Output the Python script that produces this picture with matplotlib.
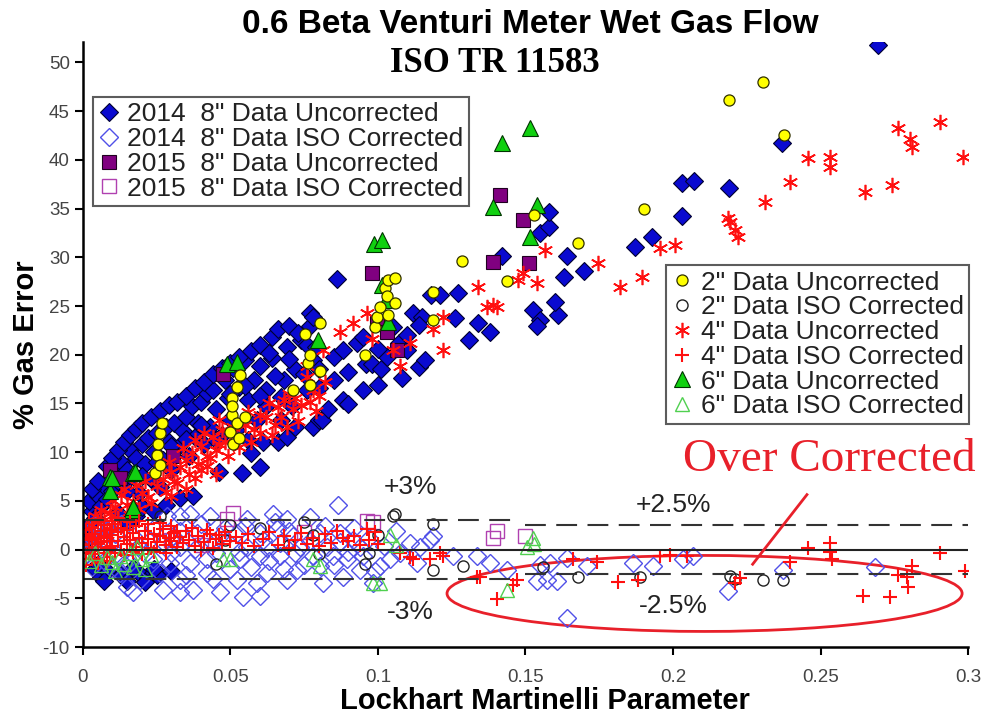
import numpy as np
import matplotlib
matplotlib.use("Agg")
import matplotlib.pyplot as plt
from matplotlib.patches import Ellipse

plt.rcParams['font.family'] = ['Liberation Sans', 'DejaVu Sans']
plt.rcParams['axes.unicode_minus'] = False

# ---- data: (Lockhart Martinelli X, % gas error) ----
u14 = [(0.001, 1.0), (0.002, 2.5), (0.003, 4.0), (0.002, 5.0), (0.004, 3.2), (0.005, 5.5), (0.006, 4.5),
       (0.007, 6.5), (0.008, 5.2), (0.009, 7.2), (0.010, 6.0), (0.011, 8.0), (0.012, 7.0), (0.013, 9.0),
       (0.014, 6.8), (0.015, 8.2), (0.016, 10.2), (0.017, 7.6), (0.018, 9.4), (0.019, 5.8), (0.020, 10.8),
       (0.021, 8.8), (0.022, 11.5), (0.023, 7.2), (0.024, 10.0), (0.025, 12.0), (0.026, 6.4), (0.027, 9.2),
       (0.028, 12.6), (0.029, 11.0), (0.030, 8.2), (0.031, 13.0), (0.032, 10.4), (0.033, 5.3), (0.034, 12.2),
       (0.035, 13.6), (0.036, 9.6), (0.037, 14.7), (0.0373, 5.5), (0.038, 11.6), (0.039, 13.0), (0.040, 15.2),
       (0.041, 10.8), (0.042, 16.1), (0.043, 12.6), (0.044, 16.4), (0.045, 14.4), (0.046, 8.0), (0.047, 11.8),
       (0.048, 17.4), (0.049, 15.6), (0.050, 13.4), (0.051, 18.6), (0.052, 12.3), (0.053, 16.7), (0.054, 7.9),
       (0.055, 19.5), (0.056, 11.3), (0.056, 15.4), (0.057, 9.9), (0.058, 17.4), (0.059, 13.3), (0.060, 18.8),
       (0.060, 8.5), (0.061, 11.0), (0.062, 16.4), (0.062, 14.7), (0.064, 19.7), (0.064, 21.8), (0.066, 11.0),
       (0.067, 15.7), (0.067, 13.3), (0.068, 17.4), (0.069, 20.8), (0.069, 11.6), (0.071, 14.7), (0.072, 18.5),
       (0.072, 12.6), (0.074, 21.5), (0.076, 16.4), (0.077, 24.3), (0.077, 22.9), (0.078, 23.9), (0.078, 19.5),
       (0.078, 12.6), (0.080, 13.3), (0.080, 18.5), (0.081, 13.3), (0.083, 14.4), (0.085, 19.8), (0.086, 27.8),
       (0.088, 15.4), (0.088, 20.5), (0.090, 14.9), (0.093, 21.2), (0.095, 16.4), (0.096, 19.0), (0.098, 19.0),
       (0.100, 16.9), (0.101, 18.5), (0.103, 19.8), (0.107, 21.2), (0.108, 17.6), (0.110, 20.5), (0.112, 24.3),
       (0.114, 18.7), (0.115, 23.9), (0.114, 23.1), (0.116, 19.5), (0.118, 26.1), (0.121, 26.1), (0.126, 23.8),
       (0.127, 26.3), (0.131, 21.5), (0.134, 23.3), (0.138, 22.3), (0.142, 30.1), (0.1525, 24.6), (0.155, 23.6),
       (0.154, 22.9), (0.161, 24.1), (0.160, 25.4), (0.163, 28.0), (0.170, 28.6), (0.164, 30.1), (0.155, 32.5),
       (0.158, 33.1), (0.158, 34.6), (0.187, 31.1), (0.193, 32.1), (0.203, 34.2), (0.203, 37.6), (0.207, 37.8),
       (0.219, 37.1), (0.237, 41.7), (0.2695, 51.8),
       (0.003, 6.2), (0.005, 7.0), (0.008, 8.6), (0.010, 9.4), (0.012, 10.2), (0.014, 11.0), (0.016, 11.8),
       (0.018, 12.4), (0.020, 13.0), (0.023, 13.6), (0.026, 14.2), (0.029, 14.8), (0.032, 15.2), (0.035, 15.8),
       (0.038, 16.6), (0.041, 17.2), (0.044, 18.0), (0.047, 18.6), (0.050, 19.2), (0.053, 19.8), (0.057, 20.4),
       (0.060, 21.0), (0.063, 20.2), (0.066, 22.6), (0.070, 23.0), (0.073, 22.2), (0.076, 21.0), (0.079, 20.8),
       (0.015, 6.0), (0.020, 7.6), (0.025, 9.0), (0.030, 10.6), (0.035, 11.4), (0.040, 12.8), (0.045, 11.2),
       (0.050, 16.0), (0.055, 16.8), (0.060, 15.8), (0.065, 17.8), (0.070, 19.6), (0.075, 18.0), (0.080, 16.6),
       (0.085, 17.4), (0.090, 18.2), (0.095, 21.8), (0.100, 20.6), (0.105, 22.8), (0.110, 22.0),
       (0.012, 3.8), (0.015, 2.8), (0.018, 3.4), (0.020, 4.4), (0.024, 4.0), (0.028, 4.6),
       (0.004, -2.0), (0.006, -2.8), (0.008, -2.2), (0.005, -1.5), (0.007, -3.2), (0.019, -2.4), (0.022, -2.9),
       (0.017, -1.9), (0.025, -2.6), (0.030, -2.2), (0.013, -2.6), (0.015, -3.2), (0.021, -3.3), (0.024, -2.0)]

c14 = [(0.001, -0.5), (0.002, 1.5), (0.003, -1.8), (0.004, 2.4), (0.005, -0.2), (0.006, 1.0), (0.007, -1.2),
       (0.008, 2.0), (0.009, 0.5), (0.010, -2.0), (0.011, 1.6), (0.012, -0.6), (0.013, 2.6), (0.014, -1.5),
       (0.0864, 4.6), (0.017, -4.4), (0.0149, -3.8), (0.0193, -3.1), (0.0271, -4.1), (0.0329, -4.4),
       (0.0373, -4.1), (0.0329, -3.1), (0.0464, -4.4), (0.0542, -4.9), (0.060, -4.8), (0.059, -3.4),
       (0.0522, -3.1), (0.044, -3.0), (0.042, -2.4), (0.0624, -2.4), (0.069, -3.1), (0.0725, -2.1),
       (0.0803, -1.7), (0.0814, -3.4), (0.088, -2.8), (0.0939, -2.1), (0.1007, -1.7), (0.0983, -3.4),
       (0.078, -0.7), (0.0668, -0.7), (0.060, -0.7), (0.0532, -1.0), (0.042, -1.0), (0.0363, -1.4),
       (0.0295, -1.4), (0.0237, -1.0), (0.0159, -1.4), (0.0125, -2.4), (0.0261, -2.4),
       (0.0285, 3.4), (0.0329, 3.4), (0.0363, 3.7), (0.043, 3.4), (0.0556, 3.1), (0.0644, 3.7), (0.069, 3.1),
       (0.077, 3.3), (0.0658, 2.1), (0.060, 1.7), (0.0522, 1.7), (0.0464, 1.4), (0.0386, 1.7), (0.0305, 1.4),
       (0.0227, 1.0), (0.017, 1.4), (0.0712, 1.4), (0.0803, 1.7), (0.0871, 1.7), (0.0915, 1.0), (0.0668, 0.7),
       (0.0556, 0.3), (0.0441, 0.7), (0.0329, 0.3), (0.0624, 0.2), (0.0736, 0.3), (0.0827, 0.3),
       (0.0949, -0.7), (0.1075, -0.3), (0.0895, -1.0), (0.0847, -0.7),
       (0.1108, 0.7), (0.1142, 0.3), (0.1176, 1.0), (0.1186, 1.4), (0.1132, -1.4), (0.1254, -0.7),
       (0.1336, -0.7), (0.138, -1.4), (0.1437, -2.1), (0.1539, -3.2), (0.1573, -3.1), (0.1607, -3.2),
       (0.1583, -1.4), (0.1641, -0.9), (0.1708, -1.7), (0.164, -7.0), (0.1864, -1.4), (0.1932, -1.7),
       (0.2034, -1.0), (0.2068, -0.7), (0.2186, -4.3), (0.2685, -1.8), (0.2373, -2.1), (0.155, -1.6),
       (0.019, 0.4), (0.021, -0.5), (0.024, 2.2), (0.027, 0.8), (0.030, -0.4), (0.033, 1.9), (0.035, -2.6),
       (0.038, 0.1), (0.040, 2.6), (0.045, -0.3), (0.048, 2.2), (0.050, -2.0), (0.053, -0.2), (0.055, 2.4),
       (0.057, -1.8), (0.061, 1.0), (0.063, -1.2), (0.065, 2.8), (0.068, -2.0), (0.070, 1.9), (0.072, -0.4),
       (0.075, -1.6), (0.077, 0.9), (0.082, 2.4), (0.085, -1.6), (0.087, 0.8), (0.090, -0.2), (0.092, 2.2),
       (0.094, 0.3), (0.097, 1.2), (0.099, -2.2), (0.102, 0.4), (0.104, -1.0), (0.106, 1.9)]

u15 = [(0.0092, 8.2), (0.0125, 7.4), (0.0305, 9.6), (0.0475, 18.0), (0.098, 28.4), (0.0997, 23.3),
       (0.103, 22.3), (0.1064, 20.5), (0.139, 29.5), (0.1414, 36.4), (0.149, 33.8), (0.1512, 29.4)]

c15 = [(0.0508, 3.8), (0.0488, 3.1), (0.0963, 2.9), (0.0983, 2.8), (0.1403, 1.9), (0.139, 1.2),
       (0.1498, 1.4), (0.030, 1.0), (0.040, 0.5), (0.075, 1.8)]

u2 = [(0.0244, 7.9), (0.0251, 9.7), (0.0254, 10.8), (0.0261, 12.0), (0.0261, 8.7), (0.0268, 13.0),
      (0.0498, 12.1), (0.0505, 13.8), (0.0505, 15.6), (0.0522, 13.0), (0.0522, 16.7), (0.0532, 17.9),
      (0.0549, 13.6), (0.051, 10.8), (0.053, 11.5), (0.0505, 14.7), (0.0712, 16.4), (0.0753, 22.1),
      (0.0763, 19.2), (0.077, 20.0), (0.077, 16.9), (0.0803, 18.3), (0.0803, 23.3), (0.0956, 20.0),
      (0.099, 22.8), (0.0997, 23.9), (0.1007, 24.9), (0.1024, 26.8), (0.103, 26.0), (0.1034, 27.7),
      (0.1034, 24.1), (0.1058, 27.9), (0.1058, 25.3), (0.1186, 26.4), (0.1186, 23.6), (0.1285, 29.6),
      (0.1437, 27.6), (0.153, 34.3), (0.1678, 31.5), (0.1902, 35.0), (0.219, 46.1), (0.2305, 48.0),
      (0.2376, 42.6)]

c2 = [(0.0261, 3.4), (0.1058, 3.7), (0.1051, 3.4), (0.1186, 2.6), (0.1186, -2.1), (0.0956, -1.5),
      (0.1288, -1.7), (0.1678, -2.8), (0.1888, -2.8), (0.156, -1.8), (0.2193, -2.7), (0.2305, -3.1),
      (0.2373, -3.1), (0.221, -3.0), (0.050, 2.5), (0.048, 1.0), (0.075, 2.8), (0.078, 1.5), (0.070, 0.5),
      (0.080, -0.5), (0.060, 2.2), (0.045, -1.5), (0.100, 1.5), (0.097, -0.3)]

u4 = [(0.001, 0.5), (0.002, 1.5), (0.003, 2.5), (0.003, 0.2), (0.004, 3.4), (0.005, 1.2), (0.006, 2.0),
      (0.006, 4.1), (0.007, 3.0), (0.008, 1.6), (0.009, 3.8), (0.010, 5.1), (0.010, 2.4), (0.011, 4.4),
      (0.012, 3.2), (0.013, 5.6), (0.014, 6.2), (0.015, 4.6), (0.016, 3.6), (0.017, 5.0), (0.018, 6.6),
      (0.019, 4.2), (0.020, 5.8), (0.021, 7.0), (0.022, 5.4), (0.023, 4.8), (0.024, 7.6), (0.025, 6.5),
      (0.026, 8.4), (0.027, 7.2), (0.028, 5.9), (0.029, 9.0), (0.030, 8.0), (0.031, 7.0), (0.033, 8.5),
      (0.034, 10.4), (0.035, 9.2), (0.036, 7.8), (0.037, 9.9), (0.038, 11.2), (0.039, 8.8), (0.040, 10.6),
      (0.041, 12.0), (0.042, 9.6), (0.044, 11.6), (0.045, 10.2), (0.046, 13.3), (0.047, 12.3), (0.048, 11.0),
      (0.051, 12.6), (0.053, 10.5), (0.056, 14.1), (0.058, 12.4), (0.060, 13.8), (0.063, 15.0), (0.065, 12.8),
      (0.067, 13.6), (0.070, 16.0), (0.0712, 14.4), (0.073, 13.2), (0.0759, 17.7), (0.077, 15.1),
      (0.079, 14.2), (0.0759, 18.8), (0.0814, 20.5), (0.0871, 22.3), (0.0915, 23.3), (0.0963, 24.3),
      (0.098, 21.6), (0.105, 20.5), (0.1075, 18.8), (0.111, 21.2), (0.1186, 22.6), (0.122, 20.5),
      (0.122, 23.9), (0.134, 27.0), (0.137, 24.9), (0.1403, 24.9), (0.139, 25.1), (0.1475, 27.7),
      (0.149, 28.4), (0.154, 27.4), (0.1566, 30.8), (0.1746, 29.4), (0.182, 27.0), (0.1895, 28.0),
      (0.1956, 31.0), (0.2007, 31.3), (0.2186, 34.0), (0.2193, 33.6), (0.221, 32.8), (0.222, 32.1),
      (0.2312, 35.7), (0.2397, 37.7), (0.2458, 40.2), (0.2532, 40.3), (0.2532, 39.3), (0.265, 36.7),
      (0.2742, 37.4), (0.2763, 43.3), (0.2803, 42.1), (0.281, 41.3), (0.2905, 43.9), (0.2983, 40.3),
      (0.030, 5.5), (0.032, 6.8), (0.035, 6.2), (0.038, 7.4), (0.040, 8.2), (0.043, 9.4), (0.046, 10.8),
      (0.049, 9.6), (0.052, 11.6), (0.055, 12.8), (0.057, 11.0), (0.060, 12.0), (0.062, 13.6), (0.064, 11.8),
      (0.066, 14.6), (0.068, 15.4), (0.072, 15.6), (0.074, 14.8), (0.078, 16.4), (0.080, 15.8), (0.082, 17.2),
      (0.069, 12.6), (0.045, 7.8), (0.042, 8.6)]

c4 = [(0.000, 0.5), (0.001, 2.0), (0.001, -1.0), (0.002, 1.0), (0.002, 3.0), (0.003, -0.5), (0.003, 2.2),
      (0.004, 0.3), (0.004, 1.6), (0.005, -1.4), (0.005, 2.8), (0.006, 0.8), (0.006, 1.9), (0.007, -0.3),
      (0.007, 2.5), (0.008, 1.2), (0.008, 0.2), (0.009, 2.0), (0.009, -0.8), (0.010, 1.5), (0.010, 0.4),
      (0.011, 2.6), (0.012, 0.9), (0.012, 1.8), (0.013, 0.0), (0.013, 2.2), (0.014, 1.3), (0.015, 0.6),
      (0.015, 2.0), (0.016, 1.0), (0.017, 1.7), (0.018, 0.3), (0.018, 2.4), (0.019, 1.2), (0.020, 0.7),
      (0.021, 1.9), (0.022, 1.1), (0.023, 0.2), (0.024, 1.6), (0.025, 0.8), (0.026, 1.4), (0.027, 2.1),
      (0.028, 0.5), (0.029, 1.2), (0.030, 0.9), (0.031, 1.7), (0.032, 0.3), (0.033, 1.3), (0.034, 0.7),
      (0.035, 1.9), (0.036, 1.0), (0.038, 0.4), (0.039, 1.4), (0.041, 0.8), (0.043, 1.6), (0.044, 0.2),
      (0.045, 1.1), (0.047, 0.6), (0.048, 1.8), (0.050, 0.9), (0.052, 1.3), (0.066, 0.5), (0.068, 1.4),
      (0.070, 0.2), (0.072, 1.0), (0.074, 1.7), (0.076, 0.6), (0.078, 1.2), (0.080, 0.4), (0.088, 1.2),
      (0.090, 0.9), (0.092, 1.4), (0.0963, 2.1), (0.099, 1.8), (0.100, 0.6), (0.1075, -0.3), (0.112, -1.0),
      (0.1108, -0.8), (0.1176, -1.0), (0.121, -0.3), (0.122, -0.7), (0.1336, -2.8), (0.1346, -2.8),
      (0.1403, -5.1), (0.1458, -3.6), (0.147, -3.1), (0.166, -1.0), (0.1742, -1.3), (0.1814, -3.3),
      (0.188, -3.1), (0.1956, -0.7), (0.199, -0.6), (0.2047, -0.7), (0.221, -3.4), (0.2227, -2.9),
      (0.2397, -1.3), (0.2458, 0.2), (0.2532, 0.7), (0.2532, -0.2), (0.254, -1.0), (0.2644, -4.8),
      (0.2736, -4.9), (0.2763, -2.6), (0.2793, -2.8), (0.2797, -3.8), (0.281, -1.7), (0.2905, -0.3),
      (0.299, -2.2),
      (0.001, -1.6), (0.002, -0.3), (0.003, 1.2), (0.004, -1.0), (0.005, 0.6), (0.006, 3.1), (0.007, 1.4),
      (0.008, -1.2), (0.009, 0.9), (0.010, 2.9), (0.011, -0.4), (0.012, 3.2), (0.014, -0.6), (0.016, 2.8),
      (0.017, -0.2), (0.019, 2.9), (0.020, -0.5), (0.022, 2.6), (0.024, -0.2), (0.026, 2.7), (0.028, -0.4),
      (0.030, 2.4), (0.032, 1.9), (0.037, 2.2), (0.040, 0.0), (0.042, 2.0), (0.046, 1.5), (0.054, 0.7),
      (0.056, 1.6), (0.058, 0.4), (0.061, 1.1), (0.063, 1.8), (0.082, 1.6), (0.084, 0.7), (0.086, 1.9),
      (0.094, 0.5), (0.097, 1.0)]

u6 = [(0.0092, 6.0), (0.0092, 7.5), (0.0098, 7.4), (0.0166, 4.1), (0.017, 7.9), (0.0176, 8.0),
      (0.017, 4.4), (0.0488, 19.0), (0.0522, 19.3), (0.0797, 21.5), (0.0986, 31.4), (0.1014, 31.8),
      (0.1014, 27.2), (0.1027, 25.6), (0.1034, 23.4), (0.139, 35.2), (0.142, 41.7), (0.1515, 43.3),
      (0.1515, 32.1), (0.154, 35.4)]

c6 = [(0.002, -1.2), (0.004, -0.4), (0.006, -1.6), (0.008, -0.8), (0.010, -1.3), (0.0125, -0.7),
      (0.014, -1.5), (0.016, -0.4), (0.0183, 0.3), (0.020, -1.0), (0.023, -0.6), (0.0475, -1.0),
      (0.0498, -1.0), (0.078, -1.0), (0.0803, -1.7), (0.0983, -3.4), (0.1007, -3.4), (0.1437, -4.1),
      (0.1505, 0.3), (0.1525, 1.2), (0.153, 0.6), (0.104, 1.5), (0.106, 0.5), (0.011, -2.2),
      (0.017, -1.8), (0.021, -2.0)]

xticks = [0, 0.05, 0.1, 0.15, 0.2, 0.25, 0.3]
xticklabels = ["0", "0.05", "0.1", "0.15", "0.2", "0.25", "0.3"]
yticks = list(range(-10, 55, 5))

fig = plt.figure(figsize=(9.9, 7.19), dpi=100)
ax = fig.add_axes([0.0838, 0.1001, 0.894, 0.8415])


def pts(p):
    a = np.array(p)
    return a[:, 0], a[:, 1]


star = (6, 2, 0)
h = {}
x, y = pts(u14)
h['u14'], = ax.plot(x, y, 'D', ms=9, mfc='#0a0ad0', mec='#000030', mew=0.8, ls='none')
x, y = pts(u15)
h['u15'], = ax.plot(x, y, 's', ms=10, mfc='#800080', mec='#200020', mew=0.8, ls='none')
x, y = pts(u4)
h['u4'], = ax.plot(x, y, marker=star, ms=11, color='#ff1010', mew=1.2, ls='none')
x, y = pts(u6)
h['u6'], = ax.plot(x, y, '^', ms=11, mfc='#10d010', mec='#003300', mew=0.8, ls='none')
x, y = pts(u2)
h['u2'], = ax.plot(x, y, 'o', ms=8, mfc='#ffff00', mec='#303000', mew=0.9, ls='none')

x, y = pts(c14)
h['c14'], = ax.plot(x, y, 'D', ms=9.5, mfc='none', mec='#5050e8', mew=1.0, ls='none')
x, y = pts(c15)
h['c15'], = ax.plot(x, y, 's', ms=10.5, mfc='none', mec='#b040b0', mew=1.0, ls='none')
x, y = pts(c2)
h['c2'], = ax.plot(x, y, 'o', ms=8, mfc='none', mec='#202020', mew=1.0, ls='none')
x, y = pts(c4)
h['c4'], = ax.plot(x, y, '+', ms=10, color='#ff1010', mew=1.5, ls='none')
x, y = pts(c6)
h['c6'], = ax.plot(x, y, '^', ms=10.5, mfc='none', mec='#50d050', mew=1.0, ls='none')

# reference lines
ax.plot([0, 0.3], [0, 0], color='#222222', lw=1.5)
dash = dict(color='#333333', lw=1.5, dashes=(10, 5))
ax.plot([0, 0.148], [3, 3], **dash)
ax.plot([0, 0.148], [-3, -3], **dash)
ax.plot([0.15, 0.3], [2.5, 2.5], **dash)
ax.plot([0.15, 0.3], [-2.5, -2.5], **dash)

ax.text(0.111, 6.4, "+3%", fontsize=19, color='#222222', ha='center', va='center')
ax.text(0.111, -6.4, "-3%", fontsize=19, color='#222222', ha='center', va='center')
ax.text(0.2, 4.6, "+2.5%", fontsize=19, color='#222222', ha='center', va='center')
ax.text(0.2, -5.8, "-2.5%", fontsize=19, color='#222222', ha='center', va='center')

ax.add_patch(Ellipse((0.2107, -4.5), 0.1746, 7.8, fill=False, ec='#e8202a', lw=2))
ax.plot([0.227, 0.2454], [-1.5, 5.64], color='#e8202a', lw=2)
ax.text(0.253, 9.2, "Over Corrected", fontsize=34, color='#e8202a', ha='center', va='center',
        family=['Liberation Serif', 'DejaVu Serif'])

ax.set_xlim(0, 0.3)
ax.set_ylim(-10, 52.1)
ax.set_xticks(xticks)
ax.set_xticklabels(xticklabels)
ax.set_yticks(yticks)
ax.tick_params(labelsize=13.5, labelcolor='#444444', width=1.5, length=6, direction='out')
ax.tick_params(axis='x', pad=10)
for s in ['top', 'right']:
    ax.spines[s].set_visible(False)
for s in ['left', 'bottom']:
    ax.spines[s].set_linewidth(1.8)

ax.set_xlabel("Lockhart Martinelli Parameter", fontsize=21, fontweight='bold')
ax.xaxis.set_label_coords(0.522, -0.066)
ax.set_ylabel("% Gas Error", fontsize=21, fontweight='bold', labelpad=2)

fig.text(0.536, 0.966, "0.6 Beta Venturi Meter Wet Gas Flow", fontsize=24, fontweight='bold',
         ha='center', va='center')
fig.text(0.5, 0.911, "ISO TR 11583", fontsize=25, fontweight='bold', ha='center', va='center',
         family=['Liberation Serif', 'DejaVu Serif'])

leg_kw = dict(frameon=True, fancybox=False, edgecolor='#333333', fontsize=19, handlelength=0.8,
              handletextpad=0.3, borderpad=0.2, labelspacing=0.03, borderaxespad=0, numpoints=1)
leg1 = ax.legend([h['u14'], h['c14'], h['u15'], h['c15']],
                 ['2014  8" Data Uncorrected', '2014  8" Data ISO Corrected',
                  '2015  8" Data Uncorrected', '2015  8" Data ISO Corrected'],
                 loc='upper left', bbox_to_anchor=(0.0113, 0.909), **leg_kw)
leg1.get_frame().set_linewidth(1.5)
for t in leg1.get_texts():
    t.set_color('#222222')
ax.add_artist(leg1)
leg2 = ax.legend([h['u2'], h['c2'], h['u4'], h['c4'], h['u6'], h['c6']],
                 ['2" Data Uncorrected', '2" Data ISO Corrected', '4" Data Uncorrected',
                  '4" Data ISO Corrected', '6" Data Uncorrected', '6" Data ISO Corrected'],
                 loc='upper left', bbox_to_anchor=(0.659, 0.631), **leg_kw)
leg2.get_frame().set_linewidth(1.5)
for t in leg2.get_texts():
    t.set_color('#222222')

fig.savefig("out.png", dpi=100)
